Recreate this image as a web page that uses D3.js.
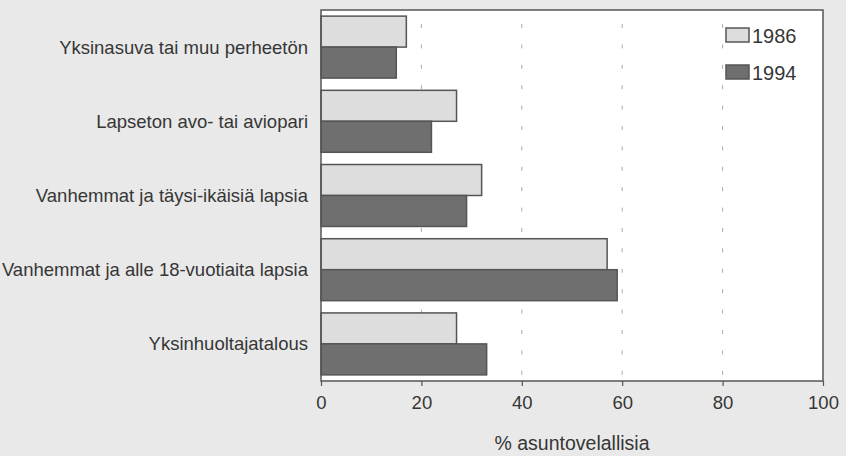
<!DOCTYPE html>
<html>
<head>
<meta charset="utf-8">
<script src="https://cdn.jsdelivr.net/npm/d3@7"></script>
<style>
  body { margin: 0; background: #e9e9e9; }
  svg { display: block; }
</style>
</head>
<body>
<div id="chart"></div>
<script>
// data
const categories = [
    "Yksinasuva tai muu perheetön",
    "Lapseton avo- tai aviopari",
    "Vanhemmat ja täysi-ikäisiä lapsia",
    "Vanhemmat ja alle 18-vuotiaita lapsia",
    "Yksinhuoltajatalous"
];
const series = ["1986", "1994"];
const values1986 = [17, 27, 32, 57, 27];
const values1994 = [15, 22, 29, 59, 33];
const xTicks = [0, 20, 40, 60, 80, 100];
const xTitle = "% asuntovelallisia";

const width = 846, height = 456;
const plot = { left: 321, right: 823, top: 10, bottom: 381 };
const font = "'Liberation Sans', Arial, Helvetica, sans-serif";
const textColor = "#363636";
const fills = { "1986": "#dddddd", "1994": "#6f6f6f" };
const strokeColor = "#555";

const svg = d3.select("#chart")
    .append("svg")
    .attr("width", width)
    .attr("height", height)
    .attr("viewBox", `0 0 ${width} ${height}`)

svg.append("rect")
    .attr("width", width)
    .attr("height", height)
    .attr("fill", "#e9e9e9");

//scales
const xScale = d3.scaleLinear().domain([0, 100]).range([plot.left, plot.right]);
const yScale = d3.scaleBand().domain(categories).range([plot.top, plot.bottom])
    .paddingInner(0.165).paddingOuter(0.0825);
const subScale = d3.scaleBand().domain(series).range([0, yScale.bandwidth()]);

//plot area
svg.append("rect")
    .attr("x", plot.left)
    .attr("y", plot.top)
    .attr("width", plot.right - plot.left)
    .attr("height", plot.bottom - plot.top)
    .attr("fill", "white");

//grid lines
svg.append("g")
    .selectAll("line")
    .data(xTicks.filter(t => t > 0 && t < 100))
    .join("line")
    .attr("x1", d => xScale(d))
    .attr("x2", d => xScale(d))
    .attr("y1", plot.top)
    .attr("y2", plot.bottom)
    .attr("stroke", "#aaa")
    .attr("stroke-width", 1)
    .attr("stroke-dasharray", "4,16.4")
    .attr("stroke-dashoffset", -14);

//bars
const rows = categories.map((c, i) => ({ cat: c, vals: { "1986": values1986[i], "1994": values1994[i] } }));
const groups = svg.append("g")
    .selectAll("g")
    .data(rows)
    .join("g")
    .attr("transform", d => `translate(0,${yScale(d.cat)})`);

groups.selectAll("rect")
    .data(d => series.map(s => ({ s, v: d.vals[s] })))
    .join("rect")
    .attr("x", xScale(0))
    .attr("y", d => subScale(d.s))
    .attr("width", d => xScale(d.v) - xScale(0))
    .attr("height", subScale.bandwidth())
    .attr("fill", d => fills[d.s])
    .attr("stroke", strokeColor)
    .attr("stroke-width", 1.5);

//frame
svg.append("rect")
    .attr("x", plot.left)
    .attr("y", plot.top)
    .attr("width", plot.right - plot.left)
    .attr("height", plot.bottom - plot.top)
    .attr("fill", "none")
    .attr("stroke", strokeColor)
    .attr("stroke-width", 1.5);

//x axis
const xAxis = d3.axisBottom(xScale).tickValues(xTicks).tickSize(5).tickPadding(10);
const gx = svg.append("g")
    .attr("transform", `translate(0,${plot.bottom})`)
    .call(xAxis);
gx.select(".domain").remove();
gx.selectAll(".tick line").attr("stroke", strokeColor).attr("stroke-width", 1.2);
gx.selectAll(".tick text")
    .attr("font-family", font)
    .attr("font-size", "18.5px")
    .attr("fill", textColor);

svg.append("text")
    .attr("x", 572)
    .attr("y", 450)
    .attr("text-anchor", "middle")
    .attr("font-family", font)
    .attr("font-size", "19.5px")
    .attr("fill", textColor)
    .text(xTitle);

//category labels
svg.append("g")
    .selectAll("text")
    .data(categories)
    .join("text")
    .attr("x", 308)
    .attr("y", d => yScale(d) + yScale.bandwidth() / 2)
    .attr("dy", "0.35em")
    .attr("text-anchor", "end")
    .attr("font-family", font)
    .attr("font-size", "18.5px")
    .attr("fill", textColor)
    .text(d => d);

//legend
const legend = svg.append("g")
    .selectAll("g")
    .data(series)
    .join("g")
    .attr("transform", (d, i) => `translate(726,${28 + i * 37})`);
legend.append("rect")
    .attr("width", 23)
    .attr("height", 14)
    .attr("fill", d => fills[d])
    .attr("stroke", strokeColor)
    .attr("stroke-width", 1.5);
legend.append("text")
    .attr("x", 26)
    .attr("y", 7)
    .attr("dy", "0.38em")
    .attr("font-family", font)
    .attr("font-size", "20px")
    .attr("fill", textColor)
    .text(d => d);
</script>
</body>
</html>
